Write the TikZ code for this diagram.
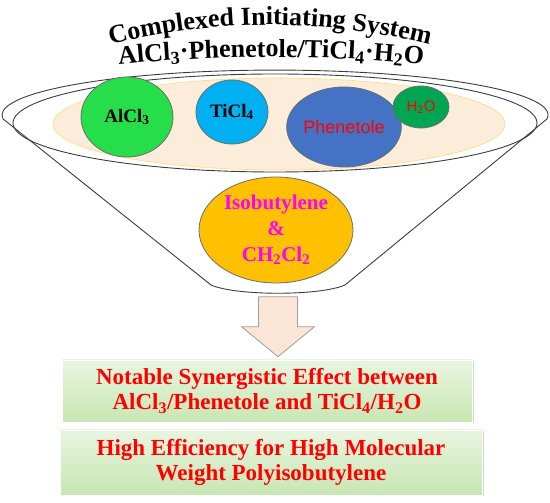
\documentclass[tikz,border=0pt]{standalone}
\usepackage{fontspec}
\setmainfont{Liberation Serif}
\newfontfamily\arialfont{Liberation Sans}
\usetikzlibrary{shapes.geometric,decorations.text,shadows}

\definecolor{alclgreen}{RGB}{38,222,74}
\definecolor{ticlblue}{RGB}{0,176,240}
\definecolor{phenblue}{RGB}{68,114,196}
\definecolor{waterdk}{RGB}{0,166,81}
\definecolor{isoorange}{RGB}{255,192,0}
\definecolor{isomagenta}{RGB}{255,0,255}
\definecolor{beigefill}{RGB}{252,237,218}
\definecolor{beigeline}{RGB}{255,217,120}
\definecolor{arrowpeach}{RGB}{251,229,214}
\definecolor{boxlight}{RGB}{232,245,224}
\definecolor{boxgreen}{RGB}{200,230,178}
\definecolor{funnelgray}{RGB}{60,60,60}

\newcommand{\titlefont}{\fontsize{26}{30}\selectfont\bfseries}

\begin{document}
\begin{tikzpicture}[x=1pt, y=1pt,
    blob/.style={ellipse, draw=gray!85!black, line width=0.8pt, inner sep=0pt},
    resultbox/.style={rectangle, draw=white, line width=0.6pt, top color=boxlight, bottom color=boxgreen,
      text=red, align=center, font=\fontsize{23}{25}\selectfont\bfseries,
      drop shadow={shadow xshift=1.5pt, shadow yshift=-1.5pt, opacity=0.35}},
    bigarrow/.style={draw=gray!75, fill=arrowpeach, line width=0.8pt}]
  \useasboundingbox (0,0) rectangle (550,503);

  % arched title
  \path[decorate, decoration={text along path, text align=center,
      text={|\titlefont|Complexed Initiating System}}]
    (270,-172) ++(110:650) arc[start angle=110, end angle=70, radius=650];
  \path[decorate, decoration={text along path, text align=center,
      text={|\titlefont|AlCl{{\textsubscript{3}}}·Phenetole/TiCl{{\textsubscript{4}}}·H{{\textsubscript{2}}}O}}]
    (271,-1060) ++(97:1506) arc[start angle=97, end angle=83, radius=1506];

  % funnel
  \draw[funnelgray, line width=0.9pt] (345,218) -- (547,384)
    arc[start angle=-5, end angle=185, x radius=273, y radius=45]
    -- (211,218) .. controls (236,207) and (320,207) .. (345,218);
  \draw[funnelgray, line width=0.9pt] (275,380) ellipse [x radius=262, y radius=49];
  \draw[beigeline, fill=beigefill, line width=0.6pt] (279,379) ellipse [x radius=226, y radius=46];

  \node[blob, fill=alclgreen, minimum width=92pt, minimum height=80pt,
    font=\fontsize{19}{22}\selectfont\bfseries] (alcl) at (127,386) {AlCl\textsubscript{3}};
  \node[blob, fill=ticlblue, minimum width=72pt, minimum height=64pt,
    font=\fontsize{19}{22}\selectfont\bfseries] (ticl) at (232,391) {TiCl\textsubscript{4}};
  \node[blob, fill=phenblue, minimum width=92pt, minimum height=80pt, text=red,
    font=\fontsize{18}{22}\arialfont] (phen) at (344,376) {Phenetole};
  \node[blob, fill=waterdk, minimum width=56pt, minimum height=42pt, text=red,
    font=\fontsize{15}{18}\arialfont] (water) at (421,396) {H\textsubscript{2}O};

  \node[blob, fill=isoorange, minimum width=154pt, minimum height=106pt, text=isomagenta,
    align=center, font=\fontsize{21}{26}\selectfont\bfseries] (iso) at (276,273)
    {Isobutylene\\\&\\CH\textsubscript{2}Cl\textsubscript{2}};

  % results
  \node[resultbox, minimum width=410pt, minimum height=62pt] (effect) at (267,112)
    {Notable Synergistic Effect between\\AlCl\textsubscript{3}/Phenetole and TiCl\textsubscript{4}/H\textsubscript{2}O};
  \node[resultbox, minimum width=422pt, minimum height=65pt] (weight) at (271,40.5)
    {High Efficiency for High Molecular\\Weight Polyisobutylene};

  \coordinate (arrowtip) at ([xshift=11pt, yshift=3pt]effect.north);
  \draw[bigarrow] (arrowtip) -- ++(-36.5,30) -- ++(17,0) -- ++(0,30) -- ++(39,0)
    -- ++(0,-30) -- ++(17,0) -- cycle;
\end{tikzpicture}
\end{document}
